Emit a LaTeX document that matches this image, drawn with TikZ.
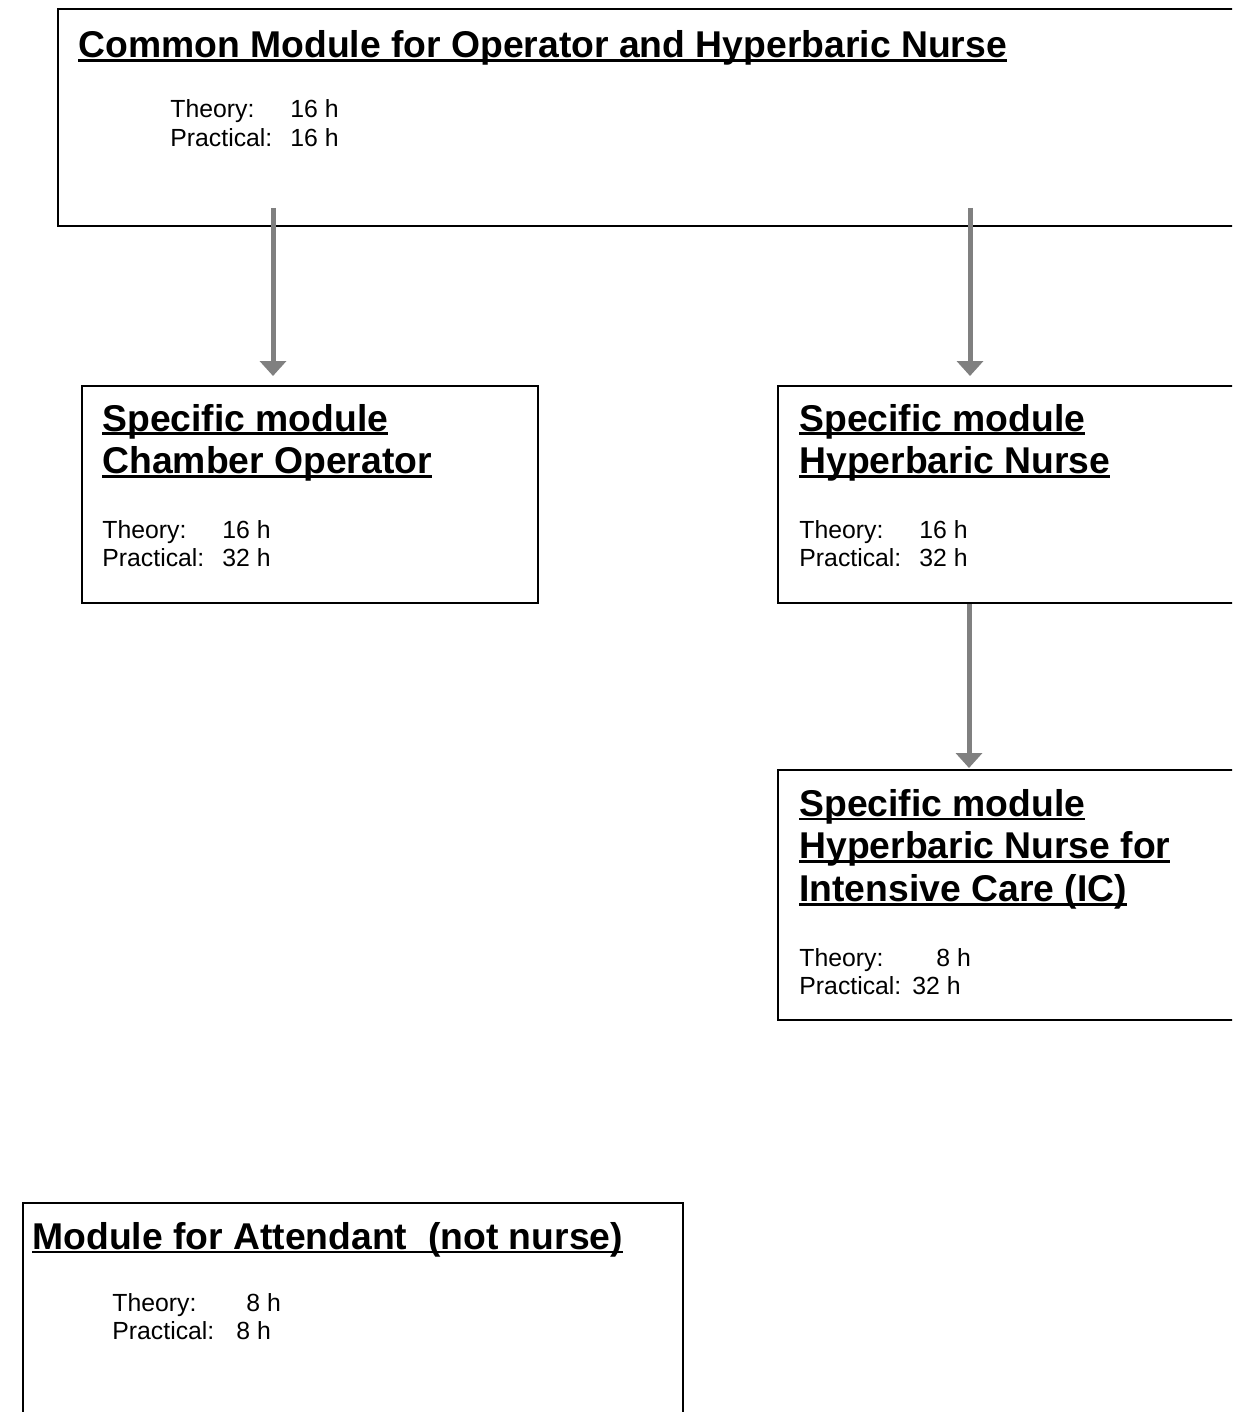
\documentclass[tikz,border=0pt]{standalone}
\usepackage{fontspec}
\setmainfont{Liberation Sans}
\usetikzlibrary{arrows.meta}

\newcommand{\modline}[1]{\setbox0\hbox{#1}\rlap{\rule[-0.11em]{\wd0}{0.07em}}\box0}

\tikzset{
	modbox/.style={draw, line width=1pt, rectangle, anchor=north west, inner sep=0pt},
	modtitle/.style={anchor=base west, inner sep=0pt, font=\fontsize{18.65}{21.45}\selectfont\bfseries},
	modhours/.style={anchor=base west, inner sep=0pt, font=\fontsize{12.4}{14.26}\selectfont},
	flow/.style={draw=gray, line width=2.5pt, -{Triangle[width=13pt,length=7.5pt]}}
}

\begin{document}
\begin{tikzpicture}[x=0.5pt, y=-0.5pt]
		
		\useasboundingbox (0,0) rectangle (1232,1412);
		\clip (0,0) rectangle (1232,1412);
		
		% boxes
		\node[modbox, minimum width=621.5pt, minimum height=108.5pt] (common) at (57,8) {};
		\node[modbox, minimum width=228pt, minimum height=108.5pt] (chamber) at (81,385) {};
		\node[modbox, minimum width=300pt, minimum height=108.5pt] (nurse) at (777,385) {};
		\node[modbox, minimum width=300pt, minimum height=125pt] (icnurse) at (777,769) {};
		\node[modbox, minimum width=330pt, minimum height=200pt] (attendant) at (22,1202) {};
		
		% titles
		\node[modtitle] (commontitle) at (78,58) {\modline{Common Module for Operator and Hyperbaric Nurse}};
		\node[modtitle] (chambertitle) at (102,431) {
			\begin{tabular}[t]{@{}l@{}}
				\modline{Specific module} \\
				\modline{Chamber Operator}
			\end{tabular}
		};
		\node[modtitle] (nursetitle) at (799,431) {
			\begin{tabular}[t]{@{}l@{}}
				\modline{Specific module} \\
				\modline{Hyperbaric Nurse}
			\end{tabular}
		};
		\node[modtitle] (ictitle) at (799,816) {
			\begin{tabular}[t]{@{}l@{}}
				\modline{Specific module} \\
				\modline{Hyperbaric Nurse for} \\
				\modline{Intensive Care (IC)}
			\end{tabular}
		};
		\node[modtitle] (attendanttitle) at (32,1249) {\modline{Module for Attendant\ \ (not nurse)}};
		
		% hours
		\node[modhours] (commonhours) at (170,118) {
			\begin{tabular}[t]{@{}l@{\hspace{9pt}}l@{}}
				Theory:    & 16 h \\
				Practical: & 16 h
			\end{tabular}
		};
		\node[modhours] (chamberhours) at (102,538) {
			\begin{tabular}[t]{@{}l@{\hspace{9pt}}l@{}}
				Theory:    & 16 h \\
				Practical: & 32 h
			\end{tabular}
		};
		\node[modhours] (nursehours) at (799,538) {
			\begin{tabular}[t]{@{}l@{\hspace{9pt}}l@{}}
				Theory:    & 16 h \\
				Practical: & 32 h
			\end{tabular}
		};
		\node[modhours] (ichours) at (799,966) {
			\begin{tabular}[t]{@{}l@{\hspace{5.5pt}}l@{}}
				Theory:    & \hspace{12pt}8 h \\
				Practical: & 32 h
			\end{tabular}
		};
		\node[modhours] (attendanthours) at (112,1311) {
			\begin{tabular}[t]{@{}l@{\hspace{11pt}}l@{}}
				Theory:    & \hspace{5pt}8 h \\
				Practical: & 8 h
			\end{tabular}
		};
		
		% arrows
		\coordinate (opstart) at (273,208);
		\coordinate (nursestart) at (970,208);
		\draw[flow, shorten >=4.5pt] (opstart) -- (opstart |- chamber.north);
		\draw[flow, shorten >=4.5pt] (nursestart) -- (nursestart |- nurse.north);
		\draw[flow, shorten >=0.5pt] ([xshift=96pt]nurse.south west) -- ([xshift=96pt]icnurse.north west);

	\end{tikzpicture}
\end{document}
